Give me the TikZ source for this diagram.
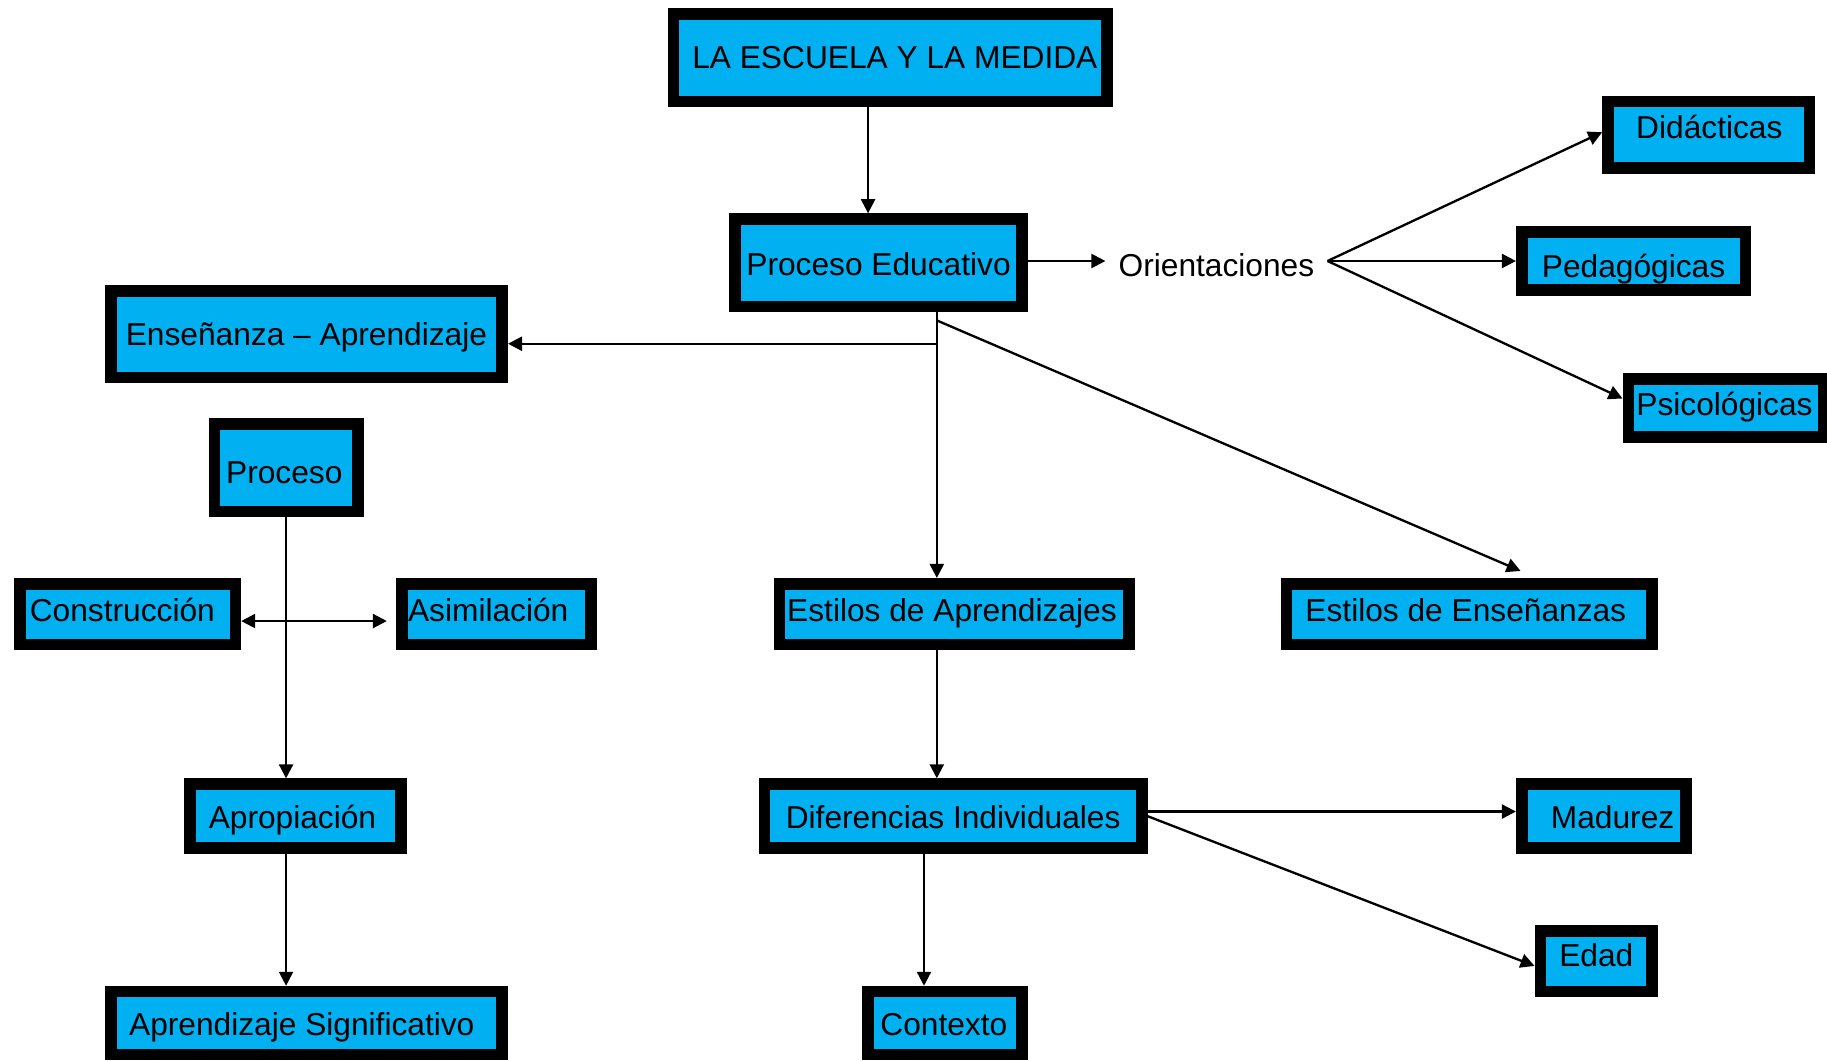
\documentclass[tikz,border=0pt]{standalone}
\usepackage{fontspec}
\setmainfont{Liberation Sans}
\usetikzlibrary{arrows.meta}
\definecolor{boxcyan}{RGB}{0,176,240}
\begin{document}
\begin{tikzpicture}[x=0.5pt,y=-0.5pt,
  box/.style={draw=black, line width=5pt, fill=boxcyan, inner sep=0pt, rectangle},
  txt/.style={inner sep=0pt, font=\fontsize{13.6pt}{16pt}\selectfont, text height=9.75pt, text depth=0pt, anchor=center},
  conn/.style={line width=1pt, -{Triangle[length=6pt,width=6pt]}},
  dconn/.style={line width=1pt, {Triangle[length=6pt,width=6pt]}-{Triangle[length=6pt,width=6pt]}},
  plain/.style={line width=1pt}]
\useasboundingbox (0,0) rectangle (1568,910);

% boxes
\node[box, minimum width=186pt, minimum height=37.5pt] (le) at (764,49.5) {};
\node[box, minimum width=123pt, minimum height=37.5pt] (pe) at (754,225.5) {};
\node[box, minimum width=86.5pt, minimum height=28.5pt] (did) at (1466.5,115.5) {};
\node[box, minimum width=96pt, minimum height=25pt] (ped) at (1402,224) {};
\node[box, minimum width=84pt, minimum height=25pt] (psi) at (1481.5,350) {};
\node[box, minimum width=168pt, minimum height=37pt] (ens) at (263,287) {};
\node[box, minimum width=61.5pt, minimum height=37.5pt] (pro) at (245.5,401.5) {};
\node[box, minimum width=92.5pt, minimum height=26pt] (con) at (109.5,527) {};
\node[box, minimum width=81pt, minimum height=26pt] (asi) at (426,527) {};
\node[box, minimum width=150pt, minimum height=26pt] (eap) at (819,527) {};
\node[box, minimum width=157pt, minimum height=26pt] (een) at (1261,527) {};
\node[box, minimum width=90.5pt, minimum height=27.5pt] (apr) at (253.5,700.5) {};
\node[box, minimum width=162pt, minimum height=27.5pt] (dif) at (818,700.5) {};
\node[box, minimum width=70.5pt, minimum height=27.5pt] (mad) at (1376.5,700.5) {};
\node[box, minimum width=48pt, minimum height=26pt] (eda) at (1370,825) {};
\node[box, minimum width=168pt, minimum height=27pt] (asg) at (263,878) {};
\node[box, minimum width=66pt, minimum height=27pt] (ctx) at (811,878) {};

% texts
\node[txt] (tle) at (768,49.4) {LA ESCUELA Y LA MEDIDA};
\node[txt] (tpe) at (754,227) {Proceso Educativo};
\node[txt] (tdid) at (1467,109) {Didácticas};
\node[txt] (tped) at (1402,228) {Pedagógicas};
\node[txt] (tpsi) at (1480,347) {Psicológicas};
\node[txt] (tens) at (263,287) {Enseñanza – Aprendizaje};
\node[txt] (tpro) at (244,405) {Proceso};
\node[txt] (tcon) at (105,524) {Construcción};
\node[txt] (tasi) at (419,524) {Asimilación};
\node[txt] (teap) at (817,524) {Estilos de Aprendizajes};
\node[txt] (teen) at (1258,524) {Estilos de Enseñanzas};
\node[txt] (tapr) at (251,701) {Apropiación};
\node[txt] (tdif) at (818,701) {Diferencias Individuales};
\node[txt] (tmad) at (1384,701) {Madurez};
\node[txt] (teda) at (1370,820) {Edad};
\node[txt] (tasg) at (259,879) {Aprendizaje Significativo};
\node[txt] (tctx) at (810,879) {Contexto};

% Orientaciones (no box)
\node[txt, text height=13.7pt, inner xsep=5.5pt] (ori) at (1044,224) {Orientaciones};

% junction coordinates
\coordinate (j) at (804,268);
\coordinate (j2) at (804,295);
\coordinate (j3) at (804,275);

% connectors
\draw[conn] ([xshift=-9.5pt]le.south) -- ([xshift=-9.5pt]le.south |- pe.north);
\draw[conn] (pe.east |- ori) -- (ori.west);
\draw[conn] (ori.east) -- ([yshift=1pt]did.west);
\draw[conn] (ori.east) -- (ped.west);
\draw[conn] (ori.east) -- ([yshift=4pt]psi.west);
\draw[conn] (j) -- (j |- eap.north);
\draw[conn] (j2) -- (j2 -| ens.east);
\draw[conn] (j3) -- ([xshift=22pt,yshift=3pt]een.north);
\draw[conn] (pro.south) -- (pro.south |- apr.north);
\draw[dconn] ([yshift=-3pt]con.east) -- ([xshift=-4pt,yshift=-3pt]asi.west);
\draw[conn] (pro.south |- apr.south) -- (pro.south |- asg.north);
\draw[conn] (j |- eap.south) -- (j |- dif.north);
\draw[conn] ([yshift=2pt]dif.east) -- ([yshift=2pt]mad.west);
\draw[conn] (dif.east) -- ([yshift=-2pt]eda.west);
\draw[conn] ([xshift=-12.5pt]dif.south) -- ([xshift=-12.5pt]dif.south |- ctx.north);
\end{tikzpicture}
\end{document}
